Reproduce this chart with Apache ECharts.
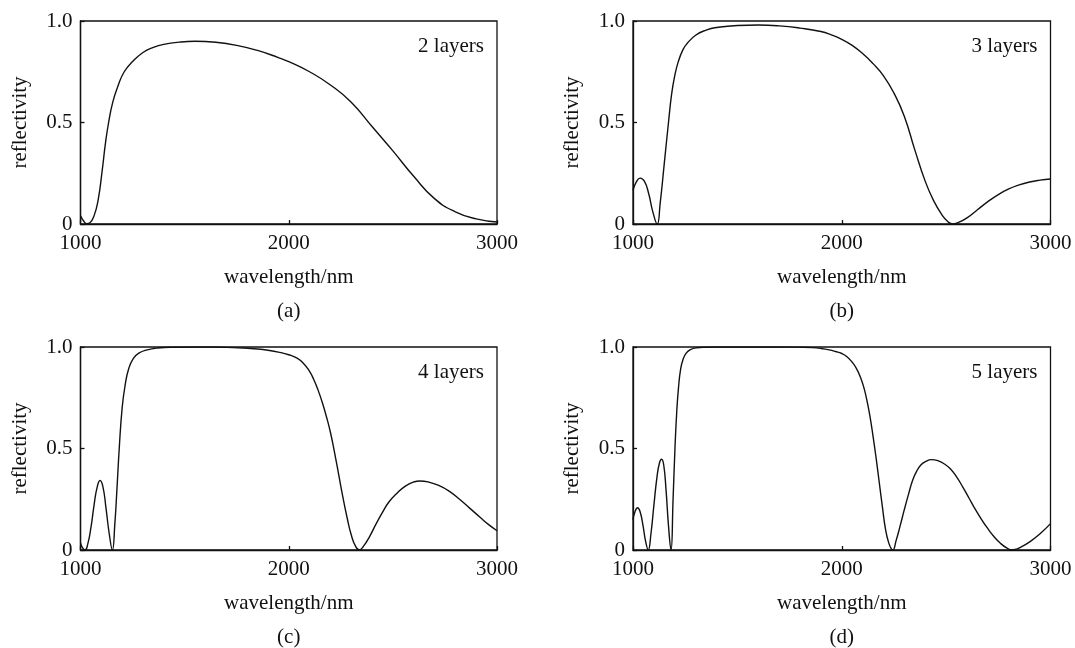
<!DOCTYPE html>
<html>
<head>
<meta charset="utf-8">
<script src="https://cdn.jsdelivr.net/npm/echarts@6/dist/echarts.min.js"></script>
<style>
html,body{margin:0;padding:0;background:#fff;}
#chart{width:1075px;height:648px;}
</style>
</head>
<body>
<div id="chart"></div>
<script>
// ---- data (wavelength nm, reflectivity) ----
var xTicks = [1000, 2000, 3000];
var yTicks = [0, 0.5, 1.0];
var panelLabels = ['(a)', '(b)', '(c)', '(d)'];
var layerLabels = ['2 layers', '3 layers', '4 layers', '5 layers'];

var layers2 = [
  [1000,0.04],[1015,0.015],[1030,0.002],[1045,0.006],[1065,0.04],[1085,0.12],[1105,0.27],
  [1120,0.40],[1135,0.50],[1155,0.60],[1180,0.68],[1210,0.75],[1250,0.80],[1300,0.845],
  [1350,0.87],[1400,0.885],[1475,0.896],[1550,0.90],[1650,0.895],[1750,0.88],[1850,0.855],
  [1950,0.82],[2000,0.80],[2100,0.75],[2200,0.685],[2300,0.60],[2400,0.48],[2500,0.36],
  [2600,0.235],[2700,0.125],[2800,0.06],[2900,0.025],[3000,0.01]
];
var layers3 = [
  [1000,0.167],[1015,0.205],[1034,0.226],[1055,0.21],[1075,0.15],[1095,0.06],[1116,0.0],
  [1130,0.10],[1150,0.30],[1170,0.50],[1185,0.64],[1200,0.73],[1217,0.80],[1240,0.86],
  [1260,0.89],[1300,0.93],[1350,0.955],[1400,0.968],[1500,0.978],[1600,0.98],[1700,0.976],
  [1800,0.965],[1900,0.948],[1950,0.932],[2000,0.91],[2050,0.88],[2100,0.84],[2150,0.79],
  [2200,0.73],[2250,0.645],[2300,0.53],[2350,0.365],[2400,0.21],[2440,0.115],[2480,0.045],
  [2510,0.01],[2531,0.0],[2560,0.008],[2600,0.03],[2650,0.07],[2700,0.11],[2750,0.145],
  [2800,0.173],[2850,0.193],[2900,0.207],[2950,0.216],[3000,0.222]
];
var layers4 = [
  [1000,0.035],[1010,0.01],[1022,0.0],[1035,0.03],[1050,0.11],[1065,0.22],[1080,0.31],
  [1094,0.342],[1108,0.31],[1122,0.21],[1138,0.08],[1153,0.0],[1165,0.13],[1175,0.30],
  [1186,0.50],[1200,0.70],[1214,0.81],[1232,0.895],[1254,0.944],[1280,0.97],[1320,0.986],
  [1370,0.995],[1450,0.999],[1550,1.0],[1650,1.0],[1700,0.998],[1780,0.995],[1850,0.99],
  [1900,0.984],[1950,0.975],[2000,0.962],[2040,0.945],[2070,0.92],[2100,0.88],[2120,0.84],
  [2140,0.79],[2160,0.73],[2180,0.66],[2200,0.58],[2220,0.48],[2240,0.37],[2260,0.26],
  [2280,0.16],[2300,0.075],[2320,0.02],[2339,0.0],[2360,0.02],[2390,0.07],[2420,0.13],
  [2450,0.185],[2480,0.235],[2520,0.28],[2560,0.315],[2600,0.335],[2630,0.34],[2670,0.335],
  [2720,0.318],[2770,0.29],[2820,0.25],[2870,0.205],[2920,0.16],[2960,0.125],[3000,0.095]
];
var layers5 = [
  [1000,0.15],[1010,0.19],[1022,0.208],[1035,0.185],[1048,0.12],[1060,0.045],[1073,0.0],
  [1086,0.08],[1100,0.22],[1115,0.36],[1127,0.43],[1137,0.447],[1147,0.42],[1158,0.30],
  [1170,0.12],[1182,0.0],[1192,0.25],[1201,0.50],[1210,0.69],[1218,0.80],[1228,0.89],
  [1240,0.94],[1255,0.97],[1275,0.987],[1305,0.996],[1350,0.999],[1400,1.0],[1500,1.0],
  [1600,1.0],[1700,1.0],[1800,0.999],[1860,0.997],[1900,0.993],[1940,0.986],[1970,0.978],
  [2000,0.968],[2025,0.952],[2050,0.925],[2070,0.895],[2090,0.85],[2106,0.80],[2120,0.74],
  [2135,0.66],[2150,0.56],[2165,0.45],[2180,0.33],[2195,0.21],[2210,0.10],[2225,0.035],
  [2238,0.005],[2245,0.0],[2260,0.045],[2280,0.12],[2300,0.20],[2320,0.275],[2340,0.345],
  [2360,0.39],[2380,0.42],[2400,0.435],[2430,0.445],[2460,0.44],[2490,0.425],[2520,0.40],
  [2550,0.36],[2580,0.31],[2610,0.255],[2640,0.20],[2670,0.15],[2700,0.105],[2730,0.065],
  [2760,0.033],[2790,0.01],[2810,0.002],[2830,0.003],[2860,0.015],[2900,0.04],[2950,0.08],
  [3000,0.13]
];
var allSeries = [layers2, layers3, layers4, layers5];

// ---- layout ----
var FONT = "'Liberation Serif','Times New Roman',serif";
var FS = 21;
var grids = [
  {left:80.5, top:21, width:416.5, height:203},
  {left:633, top:21, width:417.5, height:203},
  {left:80.5, top:347, width:416.5, height:203},
  {left:633, top:347, width:417.5, height:203}
];

var option = {
  backgroundColor:'#fff',
  animation:false,
  grid: grids.map(function(g){
    return {left:g.left, top:g.top, width:g.width, height:g.height, show:true,
            borderColor:'#111', borderWidth:1.3, backgroundColor:'transparent'};
  }),
  xAxis: grids.map(function(g,i){
    return {
      type:'value', gridIndex:i, min:xTicks[0], max:xTicks[xTicks.length-1], interval:1000,
      name:'wavelength/nm', nameLocation:'middle', nameGap:43,
      nameTextStyle:{fontFamily:FONT, fontSize:FS, color:'#111'},
      axisLine:{show:true, onZero:false, lineStyle:{color:'#111', width:1.3}},
      axisTick:{show:true, inside:true, length:4, lineStyle:{color:'#111', width:1.3}},
      axisLabel:{fontFamily:FONT, fontSize:FS, color:'#111', margin:9, showMinLabel:true, showMaxLabel:true,
        formatter:function(v){ return String(v); }},
      splitLine:{show:false}
    };
  }),
  yAxis: grids.map(function(g,i){
    return {
      type:'value', gridIndex:i, min:yTicks[0], max:yTicks[yTicks.length-1], interval:0.5,
      name:'reflectivity', nameLocation:'middle', nameGap:50, nameRotate:90,
      nameTextStyle:{fontFamily:FONT, fontSize:FS, color:'#111'},
      axisLine:{show:true, onZero:false, lineStyle:{color:'#111', width:1.3}},
      axisTick:{show:true, inside:true, length:4, lineStyle:{color:'#111', width:1.3}},
      axisLabel:{fontFamily:FONT, fontSize:FS, color:'#111', margin:8,
        formatter:function(v){ return v===0 ? '0' : v.toFixed(1); }},
      splitLine:{show:false}
    };
  }),
  series: allSeries.map(function(d,i){
    return {
      type:'line', xAxisIndex:i, yAxisIndex:i, data:d, smooth:0.5,
      showSymbol:false, symbol:'none', clip:true,
      lineStyle:{color:'#111', width:1.4}
    };
  }),
  graphic: []
};

grids.forEach(function(g,i){
  option.graphic.push({
    type:'text', x:g.left + g.width - 13, y:g.top + 25,
    style:{text:layerLabels[i], font:FS + 'px ' + FONT, fill:'#111', align:'right', verticalAlign:'middle'}
  });
  option.graphic.push({
    type:'text', x:g.left + g.width/2, y:g.top + 290,
    style:{text:panelLabels[i], font:FS + 'px ' + FONT, fill:'#111', align:'center', verticalAlign:'middle'}
  });
});

var chart = echarts.init(document.getElementById('chart'), null, {renderer:'canvas'});
chart.setOption(option);
</script>
</body>
</html>
